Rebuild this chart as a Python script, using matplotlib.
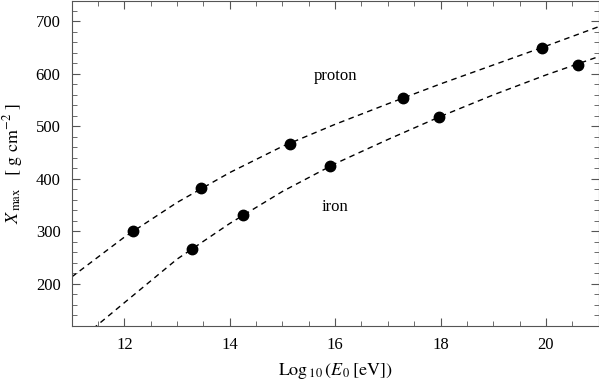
import numpy as np
import matplotlib.pyplot as plt
from matplotlib.ticker import MultipleLocator

plt.rcParams['font.family'] = 'Liberation Serif'
plt.rcParams['mathtext.fontset'] = 'stix'

# data points (log10 E0, Xmax)
proton_x = [12.17, 13.45, 15.15, 17.29, 19.93]
proton_y = [300, 382, 467, 555, 650]
iron_x = [13.28, 14.26, 15.90, 17.98, 20.60]
iron_y = [266, 332, 425, 518, 617]

# dashed curves
proton_cx = [11, 12, 13, 14, 15, 16, 17, 18, 19, 20, 21]
proton_cy = [213, 289, 355, 412, 462, 504, 543, 581, 617, 653, 690]
iron_cx = [11.4, 12, 13, 14, 15, 16, 17, 18, 19, 20, 21]
iron_cy = [114, 164, 247, 315, 376, 429, 475, 519, 560, 598, 633]

fig = plt.figure(figsize=(5.99, 3.85), dpi=100)
ax = fig.add_axes([0.1197, 0.1532, 0.8796, 0.8455])

ax.plot(proton_cx, proton_cy, color='black', lw=1.0, dashes=(4, 3.2))
ax.plot(iron_cx, iron_cy, color='black', lw=1.0, dashes=(4, 3.2))
ax.plot(proton_x, proton_y, 'o', color='black', ms=7.5)
ax.plot(iron_x, iron_y, 'o', color='black', ms=7.5)

ax.text(16.0, 597, 'proton', fontsize=12, ha='center', va='center')
ax.text(16.0, 346, 'iron', fontsize=12, ha='center', va='center')

ax.set_xlim(11, 21)
ax.set_ylim(119.5, 740)
ax.xaxis.set_major_locator(MultipleLocator(2))
ax.xaxis.set_minor_locator(MultipleLocator(0.5))
ax.yaxis.set_major_locator(MultipleLocator(100))
ax.yaxis.set_minor_locator(MultipleLocator(20))
ax.tick_params(which='both', direction='in', top=True, right=True, labelsize=12, color='#555555')
ax.tick_params(which='major', length=6, width=0.8, pad=8)
ax.tick_params(which='minor', length=3.5, width=0.6)
for s in ax.spines.values():
    s.set_color('#555555')
    s.set_linewidth(0.8)

ax.set_xlabel(r'$\rm Log_{\,10}\,(\mathit{E}_{\,0}\,[eV])$', fontsize=13, labelpad=6)
ax.set_ylabel(r'$X_{\,\rm max}\ \ \ [\ \rm g\ cm^{-2}\ ]$', fontsize=13, labelpad=8)

fig.savefig('out.png', dpi=100)
